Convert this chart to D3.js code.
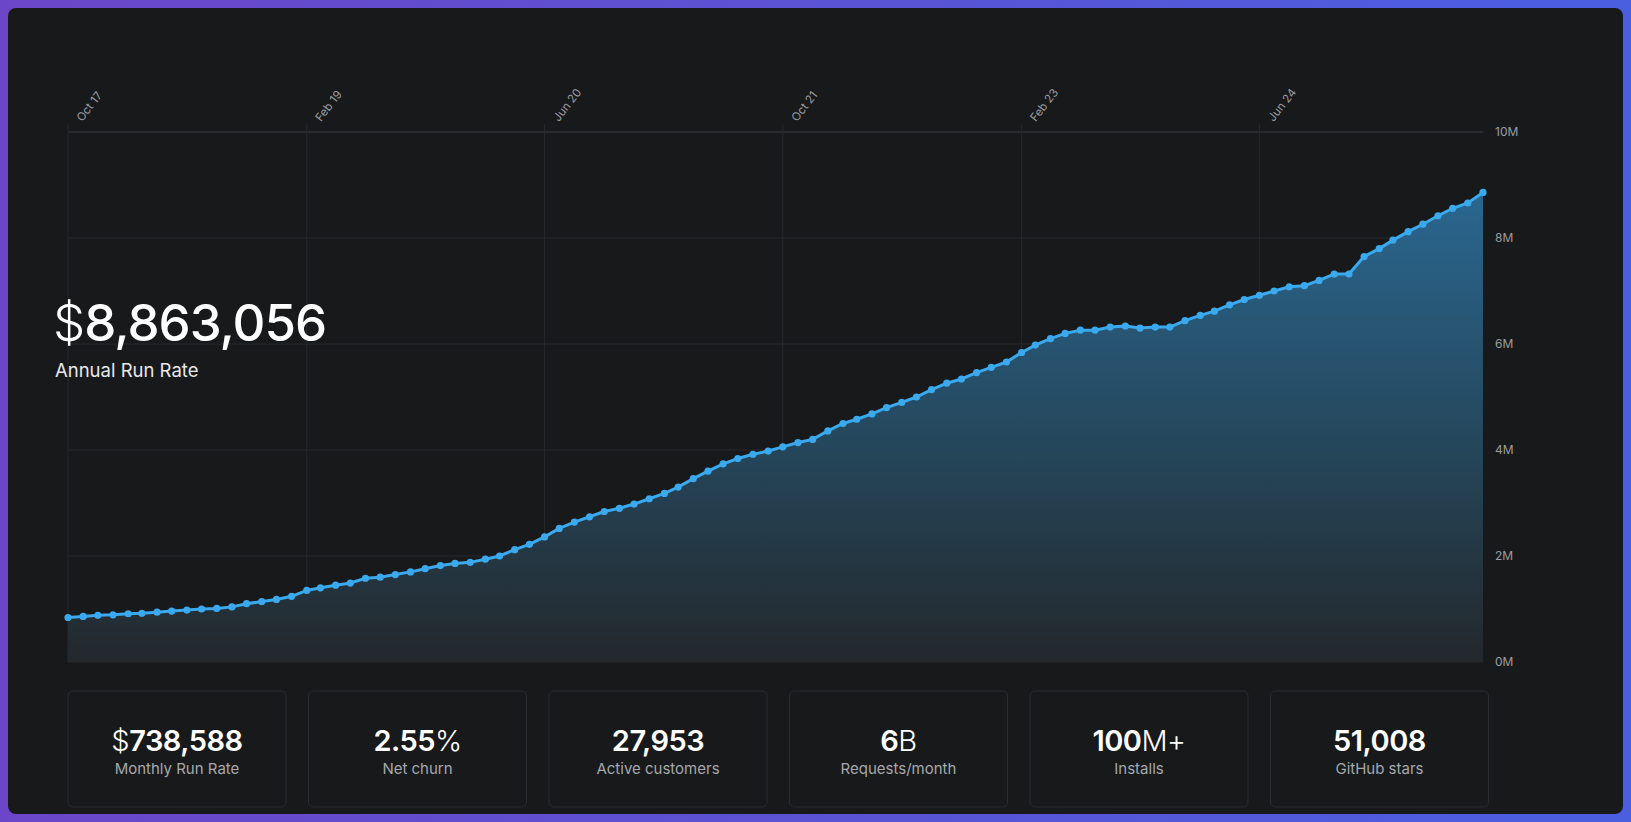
<!DOCTYPE html>
<html><head><meta charset="utf-8">
<script src="https://cdn.jsdelivr.net/npm/d3@7"></script>
<style>
html,body{margin:0;padding:0;background:linear-gradient(90deg,#6b46c8,#4a5fe0);width:1631px;height:822px;overflow:hidden;font-family:Inter,"Noto Sans",sans-serif;}
svg{display:block}
</style></head><body>
<svg id="c" width="1631" height="822"></svg>
<script>
const startMonth = [2017, 9]; // Oct 2017
const arrValues = [0.84,0.86,0.88,0.89,0.91,0.92,0.94,0.96,0.98,1.00,1.01,1.04,1.10,1.14,1.18,1.24,1.35,1.40,1.45,1.49,1.58,1.60,1.65,1.70,1.76,1.82,1.86,1.88,1.94,2.00,2.12,2.22,2.36,2.52,2.64,2.74,2.84,2.90,2.98,3.08,3.18,3.30,3.46,3.60,3.74,3.84,3.92,3.98,4.06,4.14,4.20,4.36,4.50,4.58,4.68,4.80,4.90,5.00,5.14,5.26,5.34,5.46,5.56,5.66,5.84,5.98,6.10,6.20,6.26,6.26,6.32,6.34,6.30,6.32,6.32,6.44,6.54,6.62,6.74,6.84,6.92,7.00,7.08,7.10,7.20,7.32,7.32,7.65,7.80,7.96,8.12,8.26,8.42,8.56,8.66,8.86];
const xTickLabels = ["Oct 17","Feb 19","Jun 20","Oct 21","Feb 23","Jun 24"];
const xTickMonths = [0,16,32,48,64,80];
const yTicks = [0,2,4,6,8,10];
const headline = "8,863,056";
const headlineLabel = "Annual Run Rate";
const statValues = [["$","738,588",""],["","2.55","%"],["","27,953",""],["","6","B"],["","100","M+"],["","51,008",""]];
const statLabels = ["Monthly Run Rate","Net churn","Active customers","Requests/month","Installs","GitHub stars"];

const data = arrValues.map((v,i)=>({d:new Date(startMonth[0], startMonth[1]+i, 1), v}));
const svg = d3.select("#c");
const defs = svg.append("defs");
const g1 = defs.append("linearGradient").attr("id","fill").attr("x1",0).attr("y1",0).attr("x2",0).attr("y2",1);
g1.append("stop").attr("offset","0%").attr("stop-color","#2a6790");
g1.append("stop").attr("offset","55%").attr("stop-color","#25465a");
g1.append("stop").attr("offset","100%").attr("stop-color","#23282c");

svg.append("rect").attr("x",8).attr("y",8).attr("width",1615).attr("height",806).attr("rx",8).attr("fill","#18191b");

const L=68,R=1483,T=132,B=662;
const x = d3.scaleTime().domain([data[0].d,data[data.length-1].d]).range([L,R]);
const y = d3.scaleLinear().domain([0,10]).range([B,T]);

svg.append("g").selectAll("line").data(yTicks).join("line")
 .attr("x1",L).attr("x2",R).attr("y1",d=>y(d)).attr("y2",d=>y(d))
 .attr("stroke",d=>d===10?"#3a3d42":"#26292d").attr("stroke-width",1);
const tickDates = xTickMonths.map(m=>new Date(startMonth[0],startMonth[1]+m,1));
svg.append("g").selectAll("line").data(tickDates).join("line")
 .attr("x1",d=>x(d)).attr("x2",d=>x(d)).attr("y1",T-8).attr("y2",B)
 .attr("stroke","#26292d");

svg.append("path").datum(data).attr("fill","url(#fill)")
 .attr("d",d3.area().x(d=>x(d.d)).y0(B).y1(d=>y(d.v)));
svg.append("path").datum(data).attr("fill","none").attr("stroke","#3aa9ee").attr("stroke-width",3)
 .attr("d",d3.line().x(d=>x(d.d)).y(d=>y(d.v)));
svg.append("g").selectAll("circle").data(data).join("circle")
 .attr("cx",d=>x(d.d)).attr("cy",d=>y(d.v)).attr("r",3.6).attr("fill","#3aa9ee");

const yAxis = d3.axisRight(y).tickValues(yTicks).tickFormat(d=>d+"M").tickSize(0).tickPadding(12);
const ya = svg.append("g").attr("transform",`translate(${R},0)`).call(yAxis);
ya.select(".domain").remove();
ya.selectAll("text").attr("fill","#9a9da2").attr("font-size",12).attr("font-family","Inter");
const xAxis = d3.axisTop(x).tickValues(tickDates).tickFormat((d,i)=>xTickLabels[i]).tickSize(0);
const xa = svg.append("g").attr("transform",`translate(0,${T-8})`).call(xAxis);
xa.select(".domain").remove();
xa.selectAll("text").attr("fill","#9a9da2").attr("font-size",11.5).attr("font-family","Inter")
 .attr("text-anchor","start").attr("transform","translate(16,0) rotate(-52)").attr("dy","0");

const h = svg.append("text").attr("x",53).attr("y",341).attr("fill","#fff").attr("font-size",51).attr("letter-spacing","-1").attr("font-family","Inter");
h.append("tspan").attr("font-weight",300).text("$");
h.append("tspan").attr("font-weight",500).text(headline);
svg.append("text").attr("x",55).attr("y",377).attr("fill","#e8e8e8").attr("font-size",18.5).text(headlineLabel);

const cw=218, ch=116, cy=691;
const cards = svg.append("g").selectAll("g").data(statLabels).join("g")
 .attr("transform",(d,i)=>`translate(${68+i*240.5},${cy})`);
cards.append("rect").attr("width",cw).attr("height",ch).attr("rx",5).attr("fill","#18191b").attr("stroke","#292c30");
const vt = cards.append("text").attr("x",cw/2).attr("y",60).attr("text-anchor","middle").attr("fill","#fff").attr("font-size",29).attr("letter-spacing","-0.5");
vt.append("tspan").attr("font-weight",300).text((d,i)=>statValues[i][0]);
vt.append("tspan").attr("font-weight",600).text((d,i)=>statValues[i][1]);
vt.append("tspan").attr("font-weight",300).text((d,i)=>statValues[i][2]);
cards.append("text").attr("x",cw/2).attr("y",83).attr("text-anchor","middle").attr("fill","#a5a8ad").attr("font-size",15).text(d=>d);
</script>
</body></html>
